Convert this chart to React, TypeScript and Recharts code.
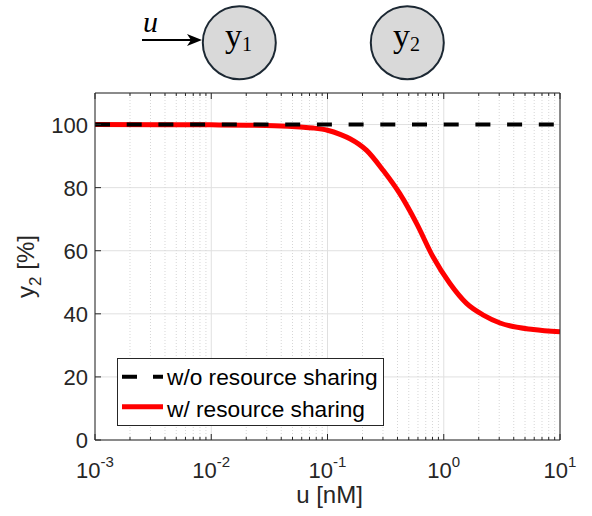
import React from 'react'
import { LineChart, Line, XAxis, YAxis, CartesianGrid, ReferenceLine, Legend } from 'recharts'

// u [nM] sample points and y2 [%]
const uValues = [0.001, 0.004, 0.01, 0.02, 0.035, 0.058, 0.075, 0.1, 0.13, 0.156, 0.217, 0.302, 0.42, 0.585, 0.81, 1.13, 1.57, 2.19, 3.05, 5.89, 10]
const withSharing = [100, 99.97, 99.9, 99.8, 99.6, 99.2, 98.9, 98.2, 96.8, 95.5, 91.8, 85.4, 78, 68.6, 58, 49.6, 43.3, 39.6, 37.1, 35.0, 34.3]
const noSharingU = [0.001, 10]
const noSharing = [100, 100]

const xMajorTicks = [0.001, 0.01, 0.1, 1, 10]
const yTicks = [0, 20, 40, 60, 80, 100]

const xMinorTicks: number[] = []
xMajorTicks.slice(0, -1).forEach(d => {
  for (let k = 2; k <= 9; k++) xMinorTicks.push(+(d * k).toPrecision(3))
})
const xAllTicks = [...xMajorTicks, ...xMinorTicks].sort((a, b) => a - b)

const redData = uValues.map((u, i) => ({ u, y: withSharing[i] }))
const blackData = noSharingU.map((u, i) => ({ u, y: noSharing[i] }))

const AXIS = '#262626'
const FONT = '"Liberation Sans", Arial, Helvetica, sans-serif'
const SERIF = '"Liberation Serif", "Times New Roman", serif'

const isMajor = (v: number) => Math.abs(Math.log10(v) - Math.round(Math.log10(v))) < 1e-6

function BottomTick({ x, y, payload }: any) {
  const v = payload.value
  const major = isMajor(v)
  return (
    <g>
      <line x1={x} x2={x} y1={y} y2={y - (major ? 6 : 3)} stroke={AXIS} />
      {major && (
        <text x={x} y={y + 38} textAnchor="middle" fontSize={22} fill={AXIS} fontFamily={FONT}>
          10<tspan dy={-11} fontSize={15}>{Math.round(Math.log10(v))}</tspan>
        </text>
      )}
    </g>
  )
}

function TopTick({ x, y, payload }: any) {
  const major = isMajor(payload.value)
  return <line x1={x} x2={x} y1={y} y2={y + (major ? 6 : 3)} stroke={AXIS} />
}

function LeftTick({ x, y, payload }: any) {
  return (
    <g>
      <line x1={x} x2={x + 6} y1={y} y2={y} stroke={AXIS} />
      <text x={x - 7} y={y + 8} textAnchor="end" fontSize={22} fill={AXIS} fontFamily={FONT}>
        {payload.value}
      </text>
    </g>
  )
}

function RightTick({ x, y }: any) {
  return <line x1={x} x2={x - 6} y1={y} y2={y} stroke={AXIS} />
}

function XLabel({ viewBox }: any) {
  return (
    <text x={viewBox.x + viewBox.width / 2 + 2} y={viewBox.y + 63} textAnchor="middle" fontSize={24} fill={AXIS} fontFamily={FONT}>
      u [nM]
    </text>
  )
}

function YLabel({ viewBox }: any) {
  const cx = viewBox.x + viewBox.width - 61
  const cy = viewBox.y + viewBox.height / 2
  return (
    <text x={cx} y={cy} transform={`rotate(-90, ${cx}, ${cy})`} textAnchor="middle" fontSize={24} fill={AXIS} fontFamily={FONT}>
      y<tspan dy={7} fontSize={17}>2</tspan><tspan dy={-7}> [%]</tspan>
    </text>
  )
}

function LegendBox() {
  return (
    <svg width={267} height={68} style={{ display: 'block' }}>
      <rect x={0.5} y={0.5} width={266} height={67} fill="#fff" stroke={AXIS} />
      <line x1={5} x2={46} y1={18.7} y2={18.7} stroke="#000" strokeWidth={4} strokeDasharray="15 16" />
      <text x={50} y={27} fontSize={22.7} fill="#000" fontFamily={FONT}>w/o resource sharing</text>
      <line x1={5} x2={46} y1={48.7} y2={48.7} stroke="#ff0000" strokeWidth={5} />
      <text x={50} y={59} fontSize={22.7} fill="#000" fontFamily={FONT}>w/ resource sharing</text>
    </svg>
  )
}

function Diagram() {
  return (
    <svg width={592} height={90} style={{ position: 'absolute', left: 0, top: 0 }}>
      <text x={143} y={32} fontSize={30} fontStyle="italic" fontFamily={SERIF} fill="#000">u</text>
      <line x1={142} y1={40} x2={195} y2={40} stroke="#000" strokeWidth={2} />
      <path d="M187,34 L202,40 L187,46 L191,40 Z" fill="#000" />
      <circle cx={239.3} cy={42.7} r={36.5} fill="#d9d9d9" stroke="#1c2833" strokeWidth={2} />
      <circle cx={407.3} cy={42.7} r={36.5} fill="#d9d9d9" stroke="#1c2833" strokeWidth={2} />
      <text x={225} y={47} fontSize={34} fontFamily={SERIF} fill="#000">
        y<tspan dy={4} fontSize={20}>1</tspan>
      </text>
      <text x={393} y={47} fontSize={34} fontFamily={SERIF} fill="#000">
        y<tspan dy={4} fontSize={20}>2</tspan>
      </text>
    </svg>
  )
}

export default function App() {
  return (
    <div style={{ position: 'absolute', left: 0, top: 0, width: 592, height: 516, background: '#fff' }}>
      <LineChart width={592} height={516} margin={{ top: 92, right: 31, bottom: 36, left: 35 }}>
        <CartesianGrid vertical={false} stroke="#e0e0e0" />
        {xMinorTicks.map(t => (
          <ReferenceLine key={`m${t}`} x={t} stroke="#d6d6d6" strokeDasharray="1 2" />
        ))}
        {xMajorTicks.map(t => (
          <ReferenceLine key={`M${t}`} x={t} stroke="#e0e0e0" />
        ))}
        <XAxis
          dataKey="u"
          type="number"
          scale="log"
          domain={[0.001, 10]}
          ticks={xAllTicks}
          interval={0}
          allowDataOverflow
          height={40}
          tickSize={0}
          tickMargin={0}
          tickLine={false}
          stroke={AXIS}
          tick={<BottomTick />}
          label={<XLabel />}
        />
        <XAxis
          xAxisId="top"
          orientation="top"
          dataKey="u"
          type="number"
          scale="log"
          domain={[0.001, 10]}
          ticks={xAllTicks}
          interval={0}
          allowDataOverflow
          height={1}
          tickSize={0}
          tickMargin={0}
          tickLine={false}
          stroke={AXIS}
          tick={<TopTick />}
        />
        <YAxis
          type="number"
          domain={[0, 110]}
          ticks={yTicks}
          interval={0}
          width={60}
          tickSize={0}
          tickMargin={0}
          tickLine={false}
          stroke={AXIS}
          tick={<LeftTick />}
          label={<YLabel />}
        />
        <YAxis
          yAxisId="right"
          orientation="right"
          type="number"
          domain={[0, 110]}
          ticks={yTicks}
          interval={0}
          width={1}
          tickSize={0}
          tickMargin={0}
          tickLine={false}
          stroke={AXIS}
          tick={<RightTick />}
        />
        <Line
          data={redData}
          dataKey="y"
          type="monotone"
          stroke="#ff0000"
          strokeWidth={5}
          dot={false}
          isAnimationActive={false}
        />
        <Line
          data={blackData}
          dataKey="y"
          type="linear"
          stroke="#000"
          strokeWidth={4}
          strokeDasharray="15 16.7"
          dot={false}
          isAnimationActive={false}
        />
        <Legend
          layout="horizontal"
          verticalAlign="middle"
          align="center"
          wrapperStyle={{ left: 117, top: 358, width: 267, height: 68 }}
          content={() => <LegendBox />}
        />
      </LineChart>
      <Diagram />
    </div>
  )
}
